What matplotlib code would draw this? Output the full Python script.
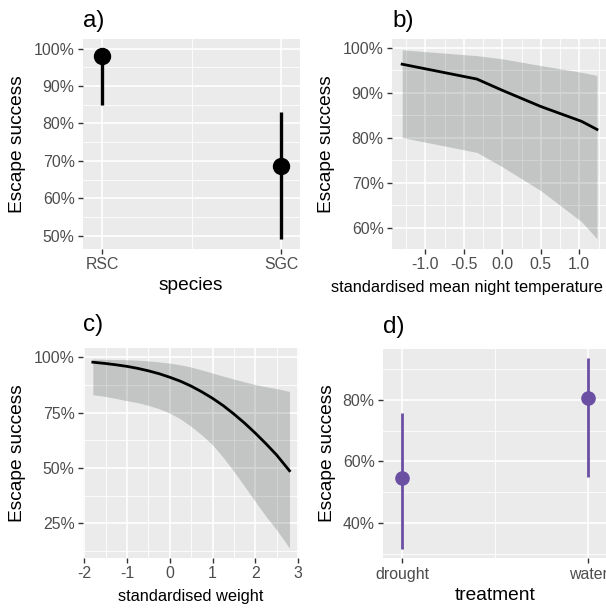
import matplotlib
matplotlib.use("Agg")
import matplotlib.pyplot as plt
import numpy as np

plt.rcParams['font.family'] = ['Liberation Sans', 'DejaVu Sans']

# ---- data ----
species = ["RSC", "SGC"]
species_est = [98.0, 68.5]
species_lo = [84.8, 49.0]
species_hi = [99.6, 83.0]

temp_x = [-1.30, -0.33, 0.0, 0.5, 1.03, 1.23]
temp_fit = [96.4, 93.1, 90.6, 87.0, 83.7, 81.9]
temp_hi = [99.6, 98.3, 97.6, 96.1, 94.6, 93.9]
temp_lo = [80.1, 76.8, 73.6, 68.3, 61.4, 57.6]

weight_x = [-1.8, -1.5, -1.25, -1.0, -0.75, -0.5, -0.25, 0.0, 0.25, 0.5,
            0.75, 1.0, 1.25, 1.5, 1.75, 2.0, 2.25, 2.5, 2.8]
weight_fit = [97.8, 97.2, 96.6, 95.9, 95.0, 93.9, 92.6, 91.0, 89.2, 87.0,
              84.4, 81.5, 78.2, 74.4, 70.3, 65.8, 61.0, 55.9, 48.8]
weight_hi = [99.2, 99.1, 99.0, 98.9, 98.7, 98.4, 97.9, 97.4, 96.6, 95.6,
             94.3, 92.9, 91.5, 90.2, 88.9, 87.7, 86.7, 85.9, 84.6]
weight_lo = [83.1, 82.3, 81.4, 80.4, 79.5, 78.3, 76.8, 74.8, 72.2, 68.8,
             64.9, 60.5, 54.8, 48.5, 41.7, 34.9, 28.2, 22.1, 13.9]

treatment = ["drought", "water"]
treat_est = [54.6, 80.8]
treat_lo = [31.5, 54.9]
treat_hi = [75.9, 93.6]

W, H = 606, 608
fig = plt.figure(figsize=(W / 100, H / 100), dpi=100)

BG = '#EBEBEB'
TICKC = '#4D4D4D'


def add_axes(l, t, r, b):
    return fig.add_axes([l / W, 1 - b / H, (r - l) / W, (b - t) / H])


def style(ax, xmaj, xmin, ymaj, ymin):
    ax.set_facecolor(BG)
    for s in ax.spines.values():
        s.set_visible(False)
    for v in ymin:
        ax.axhline(v, color='white', lw=0.6, zorder=0.5)
    for v in ymaj:
        ax.axhline(v, color='white', lw=1.2, zorder=0.6)
    for v in xmin:
        ax.axvline(v, color='white', lw=0.6, zorder=0.5)
    for v in xmaj:
        ax.axvline(v, color='white', lw=1.2, zorder=0.6)
    ax.tick_params(axis='both', length=3.5, width=1.0, color='#333333',
                   labelcolor=TICKC, labelsize=11.4, pad=2.5)


def pct(vals):
    return [f"{int(round(v))}%" for v in vals]


def title(txt, left_px, base_px):
    fig.text(left_px / W, 1 - base_px / H, txt, fontsize=17.5, ha='left', va='baseline')


def ylab(x_px, y_px):
    fig.text(x_px / W, 1 - y_px / H, "Escape success", fontsize=13.8, rotation=90,
             ha='center', va='center')


def xlab(txt, x_px, y_px, size):
    fig.text(x_px / W, 1 - y_px / H, txt, fontsize=size, ha='center', va='center')


# ---- a) ----
ax = add_axes(83, 39, 300, 249)
style(ax, [1, 2], [1.5], [50, 60, 70, 80, 90, 100], [55, 65, 75, 85, 95])
xa = np.arange(1, len(species) + 1)
ax.vlines(xa, species_lo, species_hi, color='black', lw=2.4, zorder=3)
ax.plot(xa, species_est, 'o', color='black', ms=11.5, zorder=4)
ax.set_xlim(0.894, 2.106)
ax.set_ylim(46.45, 102.55)
ax.set_xticks(xa, species)
ax.set_yticks([50, 60, 70, 80, 90, 100], pct([50, 60, 70, 80, 90, 100]))
title("a)", 83, 26.7)
ylab(17.5, 144)
xlab("species", 191, 286, 13.8)

# ---- b) ----
ax = add_axes(392, 39, 608.6, 249)
style(ax, [-1, -0.5, 0, 0.5, 1], [-1.25, -0.75, -0.25, 0.25, 0.75, 1.25],
      [60, 70, 80, 90, 100], [65, 75, 85, 95])
ax.fill_between(temp_x, temp_lo, temp_hi, color='#1a1f1f', alpha=0.19, lw=0, zorder=2)
ax.plot(temp_x, temp_fit, color='black', lw=2.0, zorder=3)
ax.set_xlim(-1.432, 1.381)
ax.set_ylim(55.33, 102.0)
ax.set_xticks([-1, -0.5, 0, 0.5, 1], ["-1.0", "-0.5", "0.0", "0.5", "1.0"])
ax.set_yticks([60, 70, 80, 90, 100], pct([60, 70, 80, 90, 100]))
title("b)", 392, 26.7)
ylab(326.5, 144)
xlab("standardised mean night temperature", 467, 288, 11.8)

# ---- c) ----
ax = add_axes(83, 348, 299, 557.5)
style(ax, [-2, -1, 0, 1, 2, 3], [-1.5, -0.5, 0.5, 1.5, 2.5],
      [25, 50, 75, 100], [12.5, 37.5, 62.5, 87.5])
ax.fill_between(weight_x, weight_lo, weight_hi, color='#1a1f1f', alpha=0.19, lw=0, zorder=2)
ax.plot(weight_x, weight_fit, color='black', lw=2.0, zorder=3)
ax.set_xlim(-2.03, 3.023)
ax.set_ylim(9.64, 104.2)
ax.set_xticks([-2, -1, 0, 1, 2, 3], ["-2", "-1", "0", "1", "2", "3"])
ax.set_yticks([25, 50, 75, 100], pct([25, 50, 75, 100]))
title("c)", 83, 331.5)
ylab(17.5, 453)
xlab("standardised weight", 191, 597, 11.8)

# ---- d) ----
ax = add_axes(383, 349, 607, 558.3)
style(ax, [1, 2], [1.5], [40, 60, 80], [30, 50, 70, 90])
xd = np.arange(1, len(treatment) + 1)
purple = '#6A4FA3'
ax.vlines(xd, treat_lo, treat_hi, color=purple, lw=2.0, zorder=3)
ax.plot(xd, treat_est, 'o', color=purple, ms=9.5, zorder=4)
ax.set_xlim(0.898, 2.102)
ax.set_ylim(28.5, 96.6)
ax.set_xticks(xd, treatment)
ax.set_yticks([40, 60, 80], pct([40, 60, 80]))
title("d)", 383, 333)
ylab(327, 453)
xlab("treatment", 495, 596, 13.8)

fig.savefig("out.png", dpi=100, facecolor='white')
